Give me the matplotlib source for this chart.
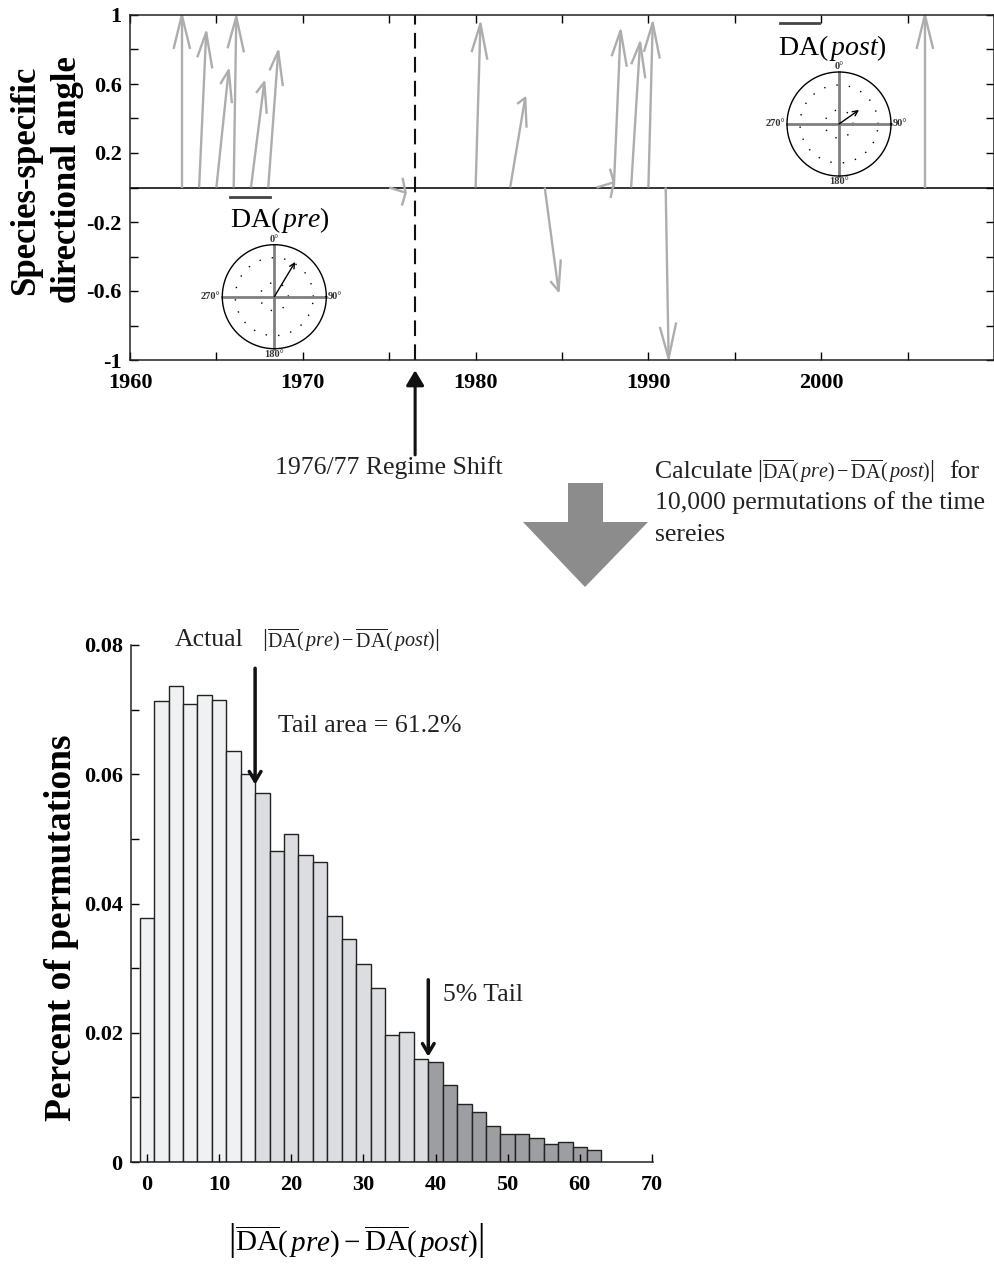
import matplotlib
matplotlib.use("Agg")
import matplotlib.pyplot as plt
import numpy as np
from matplotlib.patches import Polygon

plt.rcParams["font.family"] = "Liberation Serif"
plt.rcParams["mathtext.fontset"] = "custom"
plt.rcParams["mathtext.rm"] = "Liberation Serif"
plt.rcParams["mathtext.it"] = "Liberation Serif:italic"
plt.rcParams["mathtext.bf"] = "Liberation Serif:bold"

# ---- data ----
# top panel: one unit vector per species, starting on the zero line at its year
arrow_years = [1963, 1964, 1965, 1966, 1967, 1968, 1975, 1980, 1982, 1984, 1987, 1988, 1989, 1990, 1991, 2006]
arrow_u = [0.0, 0.41, 0.71, 0.15, 0.77, 0.58, 0.95, 0.28, 0.87, 0.80, 1.0, 0.39, 0.52, 0.25, 0.17, 0.0]
arrow_v = [1.0, 0.90, 0.68, 0.99, 0.61, 0.79, -0.03, 0.95, 0.52, -0.60, 0.03, 0.91, 0.84, 0.955, -0.99, 1.0]
shift_year = 1976.5

# mean directions shown in the compass insets (degrees from north, length)
pre_angle, pre_len = 31, 0.78
post_angle, post_len = 55, 0.47

# bottom panel: permutation distribution
bin_centers = [0, 2, 4, 6, 8, 10, 12, 14, 16, 18, 20, 22, 24, 26, 28, 30,
               32, 34, 36, 38, 40, 42, 44, 46, 48, 50, 52, 54, 56, 58, 60, 62]
perm_freq = [0.0377, 0.0714, 0.0737, 0.0709, 0.0722, 0.0715, 0.0636, 0.0600,
             0.0571, 0.0481, 0.0508, 0.0475, 0.0464, 0.0380, 0.0345, 0.0306,
             0.0269, 0.0197, 0.0201, 0.0160, 0.0155, 0.0119, 0.0090, 0.0077,
             0.0056, 0.0044, 0.0044, 0.0037, 0.0028, 0.0031, 0.0023, 0.0019]
actual_diff = 15
tail5 = 39

W, H = 995, 1266
fig = plt.figure(figsize=(W / 100, H / 100), dpi=100)

TXT = 18.5      # body text size
TICK = 16       # tick label size
INK = "#222222"


def box(l, t, r, b):
    return [l / W, 1 - b / H, (r - l) / W, (b - t) / H]


formula = r"$\left|\overline{\mathrm{DA}}(\,\mathit{pre}) - \overline{\mathrm{DA}}(\,\mathit{post})\right|$"

# ---------------- top panel ----------------
ax = fig.add_axes(box(130, 15, 994, 360))
ax.set_xlim(1960, 2010)
ax.set_ylim(-1, 1)
ax.axhline(0, color=INK, lw=1.3, zorder=1)
ax.axvline(shift_year, color="#111111", lw=1.5, dashes=(7.5, 4), zorder=1)

# quiver-like arrows (heads built in a squeezed x space like the original)
a, b, sx = 0.19, 0.19, 0.41
for x0, u, v in zip(arrow_years, arrow_u, arrow_v):
    tx, ty = x0 + u, v
    U, V = u * sx, v
    b1 = (tx + (-a * U - b * V) / sx, ty + (-a * V + b * U))
    b2 = (tx + (-a * U + b * V) / sx, ty + (-a * V - b * U))
    ax.plot([x0, tx], [0, ty], color="#adadad", lw=1.7, solid_capstyle="butt", zorder=2)
    ax.plot([b1[0], tx, b2[0]], [b1[1], ty, b2[1]], color="#adadad", lw=1.7, zorder=2)

ax.set_xticks([1960, 1970, 1980, 1990, 2000])
ax.set_xticks([1965, 1975, 1985, 1995, 2005], minor=True)
ax.set_xticklabels(["1960", "1970", "1980", "1990", "2000"], fontweight="bold", fontsize=TICK)
ax.set_yticks([-1, -0.6, -0.2, 0.2, 0.6, 1])
ax.set_yticks([-0.8, -0.4, 0, 0.4, 0.8], minor=True)
ax.set_yticklabels(["-1", "-0.6", "-0.2", "0.2", "0.6", "1"], fontweight="bold", fontsize=TICK)
ax.tick_params(which="both", direction="in", top=True, right=True, length=6, width=1)
ax.tick_params(axis="x", pad=9)
ax.tick_params(axis="y", pad=6)
for s in ax.spines.values():
    s.set_linewidth(1.1)
    s.set_color(INK)

# labels of the mean direction
ax.text(1965.8, -0.19, r"$\mathrm{DA}(\,\mathit{pre})$", fontsize=20, va="center")
ax.plot([1965.8, 1968.1], [-0.053, -0.053], color="#444444", lw=2)
ax.text(1997.5, 0.81, r"$\mathrm{DA}(\,\mathit{post})$", fontsize=20, va="center")
ax.plot([1997.6, 1999.9], [0.952, 0.952], color="#444444", lw=2)

# regime-shift pointer
ax.annotate("", xy=(shift_year, -1.06), xytext=(shift_year, -1.55),
            arrowprops=dict(arrowstyle="-|>,head_length=0.5,head_width=0.3", lw=2.2,
                            color="#111111", mutation_scale=18, shrinkA=0, shrinkB=0),
            annotation_clip=False)
fig.text(389 / W, 1 - 468 / H, "1976/77 Regime Shift", fontsize=TXT, ha="center", va="center",
         color=INK)

fig.text(47 / W, 1 - 180 / H, "Species-specific\ndirectional angle", rotation=90, fontsize=25,
         fontweight="bold", ha="center", va="center", linespacing=1.35)


def compass(cx, cy, ang, length):
    R = 52.0
    iax = fig.add_axes(box(cx - 75, cy - 70, cx + 75, cy + 70))
    iax.set_xlim(-75 / R, 75 / R)
    iax.set_ylim(-70 / R, 70 / R)
    iax.axis("off")
    iax.patch.set_alpha(0)
    t = np.linspace(0, 2 * np.pi, 200)
    for r in (0.27, 0.75):
        iax.plot(r * np.cos(t), r * np.sin(t), color="k", lw=1, linestyle=(0, (1, 8)))
    iax.plot([-1, 1], [0, 0], color="#808080", lw=2)
    iax.plot([0, 0], [-1, 1], color="#808080", lw=2)
    iax.plot(np.cos(t), np.sin(t), color="k", lw=1)
    th = np.deg2rad(ang)
    iax.annotate("", xy=(length * np.sin(th), length * np.cos(th)), xytext=(0, 0),
                 arrowprops=dict(arrowstyle="->", lw=1, color="k", shrinkA=0, shrinkB=0,
                                 mutation_scale=9))
    kw = dict(fontsize=7.5, fontweight="bold", color="#333333")
    iax.text(0, 1.02, "0°", ha="center", va="bottom", **kw)
    iax.text(0, -1.02, "180°", ha="center", va="top", **kw)
    iax.text(-1.03, 0, "270°", ha="right", va="center", **kw)
    iax.text(1.03, 0, "90°", ha="left", va="center", **kw)


compass(274.3, 296.7, pre_angle, pre_len)
compass(839, 124, post_angle, post_len)

# ---------------- big gray arrow + explanation ----------------
pts = [(568, 483), (603, 483), (603, 522), (648, 522), (585, 587), (523, 522), (568, 522)]
fig.patches.append(Polygon([(x / W, 1 - y / H) for x, y in pts], closed=True,
                           transform=fig.transFigure, facecolor="#8c8c8c", edgecolor="none"))
fig.text(655 / W, 1 - 472 / H, "Calculate", fontsize=TXT, va="center", color=INK)
fig.text(757 / W, 1 - 471 / H, formula, fontsize=14.5, va="center", color=INK)
fig.text(949 / W, 1 - 472 / H, "for", fontsize=TXT, va="center", color=INK)
fig.text(655 / W, 1 - 503 / H, "10,000 permutations of the time", fontsize=TXT, va="center",
         color=INK)
fig.text(655 / W, 1 - 535 / H, "sereies", fontsize=TXT, va="center", color=INK)

# ---------------- histogram ----------------
axh = fig.add_axes(box(131, 645, 652.7, 1162))
colors = []
for c in bin_centers:
    if c < actual_diff:
        colors.append("#f0f1f3")
    elif c < tail5:
        colors.append("#dcdde0")
    else:
        colors.append("#9d9ea2")
axh.bar(bin_centers, perm_freq, width=2, color=colors, edgecolor=INK, linewidth=1)
axh.set_xlim(-2.2, 70.1)
axh.set_ylim(0, 0.08)
axh.spines["top"].set_visible(False)
axh.spines["right"].set_visible(False)
for s in ("left", "bottom"):
    axh.spines[s].set_linewidth(1.1)
    axh.spines[s].set_color(INK)
axh.set_xticks([0, 10, 20, 30, 40, 50, 60, 70])
axh.set_xticklabels(["0", "10", "20", "30", "40", "50", "60", "70"], fontweight="bold", fontsize=TICK)
axh.set_yticks([0, 0.02, 0.04, 0.06, 0.08])
axh.set_yticks([0.01, 0.03, 0.05, 0.07], minor=True)
axh.set_yticklabels(["0", "0.02", "0.04", "0.06", "0.08"], fontweight="bold", fontsize=TICK)
axh.tick_params(which="both", direction="in", length=6, width=1)
axh.tick_params(axis="x", pad=9)
axh.tick_params(axis="y", pad=6)

arrow_kw = dict(arrowstyle="->,head_length=0.5,head_width=0.3", lw=2.5, color="#111111",
                mutation_scale=14, shrinkA=0, shrinkB=0)
axh.annotate("", xy=(actual_diff, 0.0584), xytext=(actual_diff, 0.0764), arrowprops=arrow_kw,
             annotation_clip=False)
axh.text(3.9, 0.0808, "Actual", fontsize=TXT, va="center", color=INK)
axh.text(15.9, 0.0808, formula, fontsize=14.5, va="center", color=INK)
axh.text(18.2, 0.0675, "Tail area = 61.2%", fontsize=TXT, va="center", color=INK)
axh.annotate("", xy=(tail5, 0.0163), xytext=(tail5, 0.0282), arrowprops=arrow_kw,
             annotation_clip=False)
axh.text(41.0, 0.0258, "5% Tail", fontsize=TXT, va="center", color=INK)

fig.text(62 / W, 1 - 928 / H, "Percent of permutations", rotation=90, fontsize=27,
         fontweight="bold", ha="center", va="center")
fig.text(356 / W, 1 - 1240 / H, formula, fontsize=21, ha="center", va="center")

fig.savefig("out.png", dpi=100)
